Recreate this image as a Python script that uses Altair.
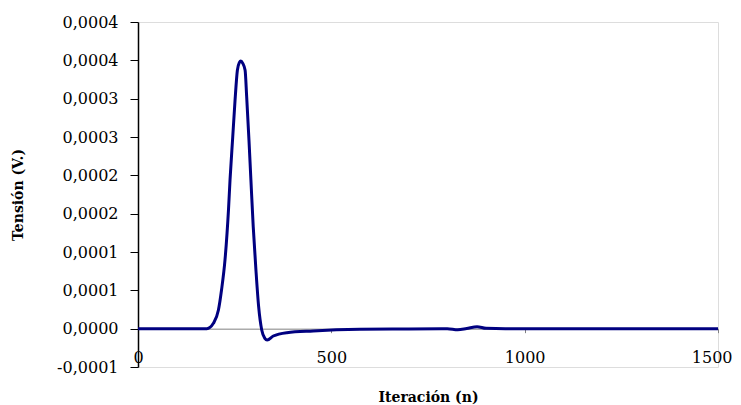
import altair as alt
import pandas as pd

# Iteration (n) and voltage (V)
n = [0, 100, 170, 178, 195, 208, 216, 225, 234, 238, 245, 251, 257, 262, 266, 271,
     277, 281, 287, 292, 298, 305, 312, 320, 328, 334, 350, 385, 453, 574, 700,
     800, 827, 850, 877, 900, 950, 1000, 1500]
v = [0, 0, 0, 0, 7.0e-6, 2.43e-5, 5.04e-5, 8.96e-5, 1.55e-4, 1.94e-4, 2.50e-4,
     2.98e-4, 3.37e-4, 3.47e-4, 3.49e-4, 3.46e-4, 3.37e-4, 3.03e-4, 2.46e-4,
     1.94e-4, 1.33e-4, 7.65e-5, 2.87e-5, -1.7e-6, -1.26e-5, -1.48e-5, -9.6e-6,
     -5.2e-6, -3.0e-6, -9e-7, -4e-7, 0, -1.4e-6, 0.3e-6, 2.6e-6, 0.4e-6, 0, 0, 0]

x_ticks = [0, 500, 1000, 1500]
y_ticks = [-0.00005, 0, 0.00005, 0.0001, 0.00015, 0.0002, 0.00025, 0.0003, 0.00035, 0.0004]
y_tick_labels = ["-0,0001", "0,0000", "0,0001", "0,0001", "0,0002", "0,0002",
                 "0,0003", "0,0003", "0,0004", "0,0004"]

df = pd.DataFrame({"n": n, "v": v})

label_arr = "[" + ",".join("'" + s + "'" for s in y_tick_labels) + "]"
y_label_expr = label_arr + "[round(datum.value/0.00005)+1]"

FONT = "DejaVu Serif"

chart = alt.Chart(df).mark_line(color="#000080", strokeWidth=3, interpolate="monotone").encode(
    x=alt.X("n:Q", scale=alt.Scale(domain=[0, 1500], nice=False, zero=False),
            axis=alt.Axis(values=x_ticks, format="d", title="Iteración (n)", grid=False,
                          offset=-38.33, tickSize=4, tickColor="#808080",
                          domainColor="#808080", domainWidth=1,
                          labelBaseline="bottom", labelPadding=33,
                          labelAlign={"expr": "datum.value == 1500 ? 'right' : 'center'"},
                          labelOffset={"expr": "datum.value == 1500 ? 14 : 0"},
                          labelFlush=False, labelFont=FONT, labelFontSize=16,
                          labelColor="#000000",
                          titleFont=FONT, titleFontSize=14, titleFontWeight="bold",
                          titleColor="#000000", titleY=69, titleBaseline="middle")),
    y=alt.Y("v:Q", scale=alt.Scale(domain=[-0.00005, 0.0004], nice=False, zero=False),
            axis=alt.Axis(values=y_ticks, labelExpr=y_label_expr, title="Tensión (V.)",
                          grid=False, tickSize=8, tickColor="#000000",
                          domainColor="#000000", domainWidth=1.5,
                          labelPadding=12, labelFont=FONT, labelFontSize=16,
                          labelColor="#000000",
                          titleFont=FONT, titleFontSize=14, titleFontWeight="bold",
                          titleColor="#000000", titleX=-120, titleBaseline="middle")),
).properties(
    width=580, height=345,
    autosize=alt.AutoSizeParams(type="none"),
    padding={"left": 130, "top": 14, "right": 15, "bottom": 38},
).configure_view(
    stroke="#a0a0a0", strokeWidth=1.5
).configure(background="#ffffff")

chart.save("out.html", embed_options={"renderer": "svg", "actions": False})
